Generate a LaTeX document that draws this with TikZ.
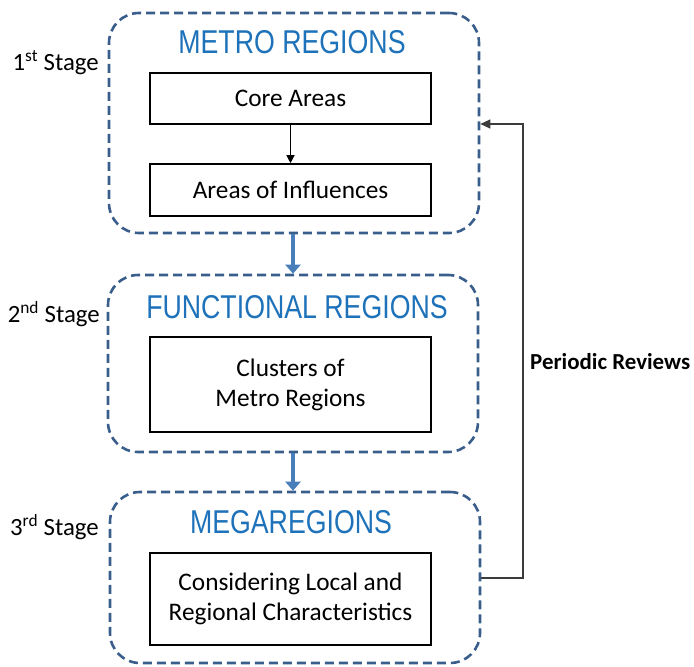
\documentclass[tikz,border=0pt]{standalone}
\usepackage{fontspec}
\usepackage{graphicx}
\setmainfont{Carlito}
\newfontfamily\titlefont{Liberation Sans}
\usetikzlibrary{arrows.meta}
\definecolor{dashblue}{RGB}{58,94,140}
\definecolor{titleblue}{RGB}{30,114,186}
\definecolor{arrowblue}{RGB}{74,126,187}
\definecolor{fbgray}{RGB}{60,60,60}
\tikzset{
  stagebox/.style={draw=dashblue, line width=2.6pt, dash pattern=on 9pt off 5pt, rounded corners=30pt, minimum width=370pt, inner sep=0pt},
  innerbox/.style={draw=black, line width=1.6pt, minimum width=281pt, inner sep=0pt, align=center, font=\fontsize{25.3}{30}\selectfont},
  titletext/.style={text=titleblue, inner sep=0pt},
  stagelabel/.style={anchor=east, inner sep=0pt, font=\fontsize{24.8}{28}\selectfont},
  bluearrow/.style={draw=arrowblue, line width=3.5pt, -{Triangle[width=15pt,length=9pt]}},
  thinarrow/.style={draw=black, line width=1.2pt, -{Triangle[width=8pt,length=8pt]}},
  fbline/.style={draw=fbgray, line width=1.4pt, -{Triangle[width=9pt,length=10pt]}, color=fbgray}
}
\newcommand{\ttl}[1]{\scalebox{0.81}[1]{\fontsize{33}{33}\titlefont #1}}
\begin{document}
\begin{tikzpicture}[x=1pt,y=-1pt]
\useasboundingbox (0,0) rectangle (694,667);
% stage boxes
\node[stagebox, minimum height=220pt] (s1) at (294,123) {};
\node[stagebox, minimum height=177pt] (s2) at (293,363.5) {};
\node[stagebox, minimum height=171pt] (s3) at (295,577.5) {};
% titles
\node[titletext] (t1) at (292,42) {\ttl{METRO REGIONS}};
\node[titletext] (t2) at (297,307) {\ttl{FUNCTIONAL REGIONS}};
\node[titletext] (t3) at (291,522) {\ttl{MEGAREGIONS}};
% inner boxes
\node[innerbox, minimum height=51pt] (core) at (290.5,98.5) {Core Areas};
\node[innerbox, minimum height=52pt] (infl) at (290.5,190) {Areas of Influences};
\node[innerbox, minimum height=95pt] (clus) at (290.5,384.5) {Clusters of\\Metro Regions};
\node[innerbox, minimum height=92pt] (cons) at (290.5,599) {Considering Local and\\Regional Characteristics};
% stage labels
\node[stagelabel] (l1) at (99,63) {1\textsuperscript{st} Stage};
\node[stagelabel] (l2) at (100,314) {2\textsuperscript{nd} Stage};
\node[stagelabel] (l3) at (99,527) {3\textsuperscript{rd} Stage};
% arrows
\draw[thinarrow] (core.south) -- (infl.north);
\draw[bluearrow] (s1.south -| t2.south) ++(-4,0) coordinate (a1) -- (a1 |- s2.north);
\draw[bluearrow] (s2.south -| t2.south) ++(-4,0) coordinate (a2) -- (a2 |- s3.north);
% feedback
\coordinate (fbstart) at (s3.east |- 0,578);
\coordinate (fbend) at (s1.east |- 0,124);
\draw[fbline] (fbstart) -- (523,578) -- (523,124) -- (fbend);
\node[anchor=west, inner sep=0pt, font=\fontsize{22.9}{26}\selectfont\bfseries] (pr) at (530,362) {Periodic Reviews};
\end{tikzpicture}
\end{document}
